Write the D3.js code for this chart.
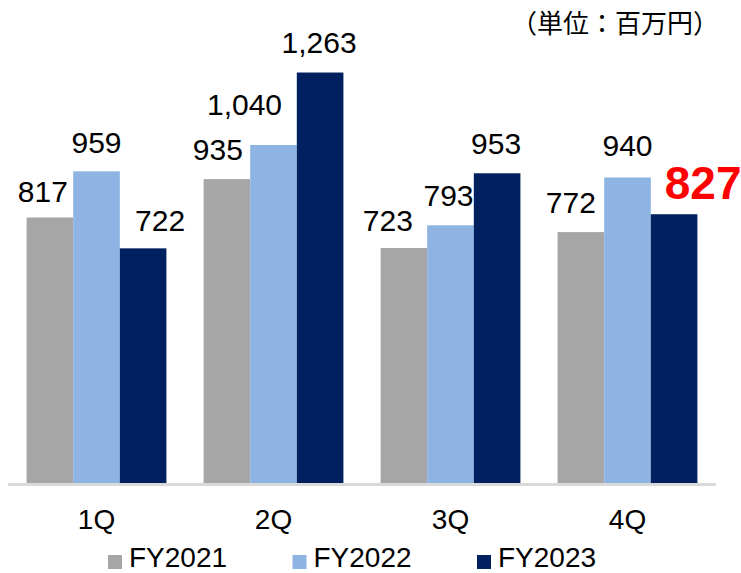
<!DOCTYPE html>
<html>
<head>
<meta charset="utf-8">
<script src="https://cdn.jsdelivr.net/npm/d3@7"></script>
<style>
  html, body { margin: 0; padding: 0; background: #fff; }
  svg { display: block; font-family: "Liberation Sans", Arial, sans-serif; }
</style>
</head>
<body>
<svg id="chart" width="741" height="573"></svg>
<script>
// データ
const quarters = ["1Q", "2Q", "3Q", "4Q"];
const seriesNames = ["FY2021", "FY2022", "FY2023"];
const fy2021 = [817, 935, 723, 772];
const fy2022 = [959, 1040, 793, 940];
const fy2023 = [722, 1263, 953, 827];
const unitLabel = "（単位：百万円）";

const seriesValues = [fy2021, fy2022, fy2023];
const colors = ["#a6a6a6", "#8eb4e3", "#002060"];

// ラベルの微調整 (重なり回避) [series][quarter]
const labelDx = [
    [-7, -9, -16, -10],
    [0, -29, -2, 0],
    [17, -1, -1, 29]
];
const labelGap = [
    [15, 19, 17, 19],
    [18, 30, 19, 22],
    [17, 20, 19, 15]
];

const svg = d3.select("#chart");

const x0 = d3.scaleBand()
    .domain(quarters)
    .range([8, 716])
    .paddingInner(0.21)
    .paddingOuter(0.105);

const x1 = d3.scaleBand()
    .domain(seriesNames)
    .range([0, x0.bandwidth()]);

const y = d3.scaleLinear()
    .domain([0, 1400])
    .range([483, 28]);

// 棒
const groups = svg.append("g")
    .selectAll("g")
    .data(quarters)
    .join("g")
    .attr("transform", d => `translate(${x0(d)},0)`);

groups.selectAll("rect")
    .data((q, qi) => seriesNames.map((s, si) => ({ s, si, qi, v: seriesValues[si][qi] })))
    .join("rect")
    .attr("x", d => x1(d.s))
    .attr("y", d => y(d.v))
    .attr("width", x1.bandwidth())
    .attr("height", d => y(0) - y(d.v))
    .attr("fill", d => colors[d.si]);

// 値ラベル (4Q FY2023 は赤・太字で強調)
const isHighlight = d => d.si === 2 && d.qi === 3;

groups.selectAll("text")
    .data((q, qi) => seriesNames.map((s, si) => ({ s, si, qi, v: seriesValues[si][qi] })))
    .join("text")
    .attr("x", d => x1(d.s) + x1.bandwidth() / 2 + labelDx[d.si][d.qi])
    .attr("y", d => y(d.v) - labelGap[d.si][d.qi])
    .attr("text-anchor", "middle")
    .attr("font-size", d => isHighlight(d) ? 46 : 30)
    .attr("font-weight", d => isHighlight(d) ? "bold" : "normal")
    .attr("fill", d => isHighlight(d) ? "#ff0000" : "#000")
    .text(d => d3.format(",")(d.v));

// 軸線
svg.append("line")
    .attr("x1", 8).attr("x2", 716)
    .attr("y1", y(0) + 1.5).attr("y2", y(0) + 1.5)
    .attr("stroke", "#d9d9d9")
    .attr("stroke-width", 3);

// カテゴリラベル
svg.append("g")
    .selectAll("text")
    .data(quarters)
    .join("text")
    .attr("x", d => x0(d) + x0.bandwidth() / 2)
    .attr("y", 529)
    .attr("text-anchor", "middle")
    .attr("font-size", 28)
    .attr("fill", "#000")
    .text(d => d);

// 凡例
const legend = svg.append("g")
    .selectAll("g")
    .data(seriesNames)
    .join("g")
    .attr("transform", (d, i) => `translate(${108 + i * 184.5},555)`);

legend.append("rect")
    .attr("width", 14)
    .attr("height", 14)
    .attr("fill", (d, i) => colors[i]);

legend.append("text")
    .attr("x", 21)
    .attr("y", 12)
    .attr("font-size", 28)
    .attr("fill", "#000")
    .text(d => d);

// 単位
svg.append("text")
    .attr("x", 719)
    .attr("y", 33)
    .attr("text-anchor", "end")
    .attr("font-family", "'Noto Sans CJK JP', sans-serif")
    .attr("font-size", 26)
    .attr("fill", "#000")
    .text(unitLabel);
</script>
</body>
</html>
